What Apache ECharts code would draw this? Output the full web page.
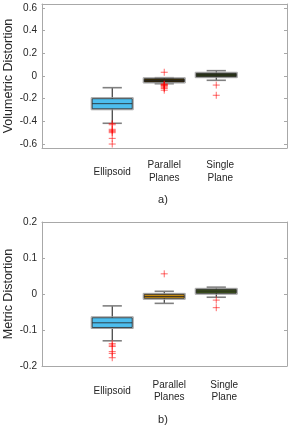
<!DOCTYPE html>
<html><head><meta charset="utf-8">
<script src="https://cdn.jsdelivr.net/npm/echarts@6/dist/echarts.min.js"></script>
<style>html,body{margin:0;padding:0;background:#fff}#c{width:291px;height:431px}</style>
</head><body><div id="c"></div>
<script>
// Categories
var categories = ['Ellipsoid', 'Parallel\nPlanes', 'Single\nPlane'];
// Tick labels
var volTicks = [-0.6, -0.4, -0.2, 0, 0.2, 0.4, 0.6];
var metTicks = [-0.2, -0.1, 0, 0.1, 0.2];
// Box stats: [whiskerLow, Q1, median, Q3, whiskerHigh]
var volEllipsoid = [-0.417, -0.289, -0.244, -0.200, -0.103];
var volParallel  = [-0.068, -0.053, -0.040, -0.024, -0.015];
var volSingle    = [-0.038, -0.006, 0.010, 0.024, 0.047];
var metEllipsoid = [-0.130, -0.093, -0.080, -0.066, -0.033];
var metParallel  = [-0.026, -0.012, -0.007, -0.001, 0.0075];
var metSingle    = [-0.009, 0.002, 0.008, 0.013, 0.019];
// Outliers
var volEllipsoidOut = [-0.42, -0.43, -0.47, -0.48, -0.49, -0.50, -0.55, -0.60];
var volParallelOut  = [0.033, -0.07, -0.075, -0.08, -0.085, -0.09, -0.10, -0.11, -0.125];
var volSingleOut    = [-0.08, -0.17];
var metEllipsoidOut = [-0.138, -0.142, -0.146, -0.160, -0.165, -0.177];
var metParallelOut  = [0.056];
var metSingleOut    = [-0.017, -0.038];

var volFills = ['#4DBEEE', '#3a2c05', '#2c3b12'];
var metFills = ['#4DBEEE', '#c48a12', '#3d5519'];

function boxData(stats) {
  return stats.map(function (s, i) { return [i + 1].concat(s); });
}
function outData(lists) {
  var out = [];
  lists.forEach(function (l, i) { l.forEach(function (v) { out.push([i + 1, v]); }); });
  return out;
}
function boxRender(fills) {
  return function (params, api) {
    var x = api.value(0);
    var wl = api.coord([x, api.value(1)]);
    var q1 = api.coord([x, api.value(2)]);
    var md = api.coord([x, api.value(3)]);
    var q3 = api.coord([x, api.value(4)]);
    var wh = api.coord([x, api.value(5)]);
    var halfBox = (api.coord([x + 0.385, 0])[0] - api.coord([x, 0])[0]);
    var halfCap = (api.coord([x + 0.185, 0])[0] - api.coord([x, 0])[0]);
    var cx = wl[0];
    var fill = fills[params.dataIndex];
    var h = q1[1] - q3[1];
    return {
      type: 'group',
      children: [
        { type: 'line', shape: { x1: cx, y1: wl[1], x2: cx, y2: q1[1] }, style: { stroke: '#111', lineWidth: 1 } },
        { type: 'line', shape: { x1: cx, y1: q3[1], x2: cx, y2: wh[1] }, style: { stroke: '#111', lineWidth: 1 } },
        { type: 'line', shape: { x1: cx - halfCap, y1: wl[1], x2: cx + halfCap, y2: wl[1] }, style: { stroke: '#808080', lineWidth: 1.6 } },
        { type: 'line', shape: { x1: cx - halfCap, y1: wh[1], x2: cx + halfCap, y2: wh[1] }, style: { stroke: '#808080', lineWidth: 1.6 } },
        { type: 'rect', shape: { x: cx - halfBox - 1, y: q3[1] - 1, width: 2 * halfBox + 2, height: h + 2 }, style: { fill: 'none', stroke: '#a0a0a0', lineWidth: 1 } },
        { type: 'rect', shape: { x: cx - halfBox, y: q3[1], width: 2 * halfBox, height: h }, style: { fill: fill, stroke: '#222', lineWidth: 0.8 } },
        { type: 'line', shape: { x1: cx - halfBox, y1: md[1], x2: cx + halfBox, y2: md[1] }, style: { stroke: '#222', lineWidth: 0.8 } }
      ]
    };
  };
}
function plusRender(params, api) {
  var p = api.coord([api.value(0), api.value(1)]);
  var h = 3.5;
  var st = { stroke: 'rgba(255,0,0,0.6)', lineWidth: 1 };
  return {
    type: 'group',
    children: [
      { type: 'line', shape: { x1: p[0] - h, y1: p[1], x2: p[0] + h, y2: p[1] }, style: st },
      { type: 'line', shape: { x1: p[0], y1: p[1] - h, x2: p[0], y2: p[1] + h }, style: st }
    ]
  };
}

var font = 'Liberation Sans, Arial, sans-serif';
var txt = '#262626';
var frame = '#a8a8a8';

function fmtTick(v) { var r = Math.round(v * 10) / 10; return r === 0 ? '0' : String(r); }

function xAxes(gridIndex, margin, lineH, pads) {
  return [
    {
      type: 'value', gridIndex: gridIndex, min: -0.35, max: 4.36, position: 'bottom',
      axisLine: { onZero: false, lineStyle: { color: frame } }, axisTick: { show: false }, splitLine: { show: false },
      axisLabel: {
        customValues: [1, 2, 3], margin: margin, verticalAlign: 'middle', color: txt,
        fontFamily: font, fontSize: 10, lineHeight: lineH,
        formatter: function (v) {
          var i = Math.round(v) - 1;
          var key = 'p' + i;
          return categories[i].split('\n').map(function (s) { return '{' + key + '|' + s + '}'; }).join('\n');
        },
        rich: {
          p0: { padding: [0, 0, 0, pads[0]], fontFamily: font, fontSize: 10, color: txt, lineHeight: lineH },
          p1: { padding: [0, 0, 0, pads[1]], fontFamily: font, fontSize: 10, color: txt, lineHeight: lineH },
          p2: { padding: [0, 0, 0, pads[2]], fontFamily: font, fontSize: 10, color: txt, lineHeight: lineH }
        }
      }
    },
    {
      type: 'value', gridIndex: gridIndex, min: -0.35, max: 4.36, position: 'top',
      axisLine: { show: true, onZero: false, lineStyle: { color: frame } }, axisTick: { show: false },
      axisLabel: { show: false }, splitLine: { show: false }
    }
  ];
}
function yAxes(gridIndex, min, max, ticks, name) {
  return [
    {
      type: 'value', gridIndex: gridIndex, min: min, max: max, position: 'left',
      name: name, nameLocation: 'middle', nameGap: 27, nameMoveOverlap: false,
      nameTextStyle: { fontFamily: font, fontSize: 12.5, color: txt },
      axisLine: { show: true, onZero: false, lineStyle: { color: frame } },
      axisTick: { show: true, inside: true, length: 3, customValues: ticks, lineStyle: { color: frame } },
      axisLabel: { customValues: ticks, formatter: fmtTick, margin: 5, color: txt, fontFamily: font, fontSize: 10 },
      splitLine: { show: false }
    },
    {
      type: 'value', gridIndex: gridIndex, min: min, max: max, position: 'right',
      axisLine: { show: true, onZero: false, lineStyle: { color: frame } },
      axisTick: { show: true, inside: true, length: 3, customValues: ticks, lineStyle: { color: frame } },
      axisLabel: { show: false }, splitLine: { show: false }
    }
  ];
}

var option = {
  animation: false,
  backgroundColor: '#fff',
  grid: [
    { left: 42, top: 4, width: 245, height: 144, containLabel: false, outerBoundsMode: 'none' },
    { left: 42, top: 222, width: 245, height: 144, containLabel: false, outerBoundsMode: 'none' }
  ],
  xAxis: xAxes(0, 24, 12.7, [0, 0, 8]).concat(xAxes(1, 25.5, 12, [0, 10, 16])),
  yAxis: yAxes(0, -0.635, 0.635, volTicks, 'Volumetric Distortion').concat(yAxes(1, -0.2, 0.2, metTicks, 'Metric Distortion')),
  graphic: [
    { type: 'text', x: 163, y: 200, style: { text: 'a)', font: '11px ' + font, fill: txt, textAlign: 'center', textVerticalAlign: 'middle' } },
    { type: 'text', x: 163, y: 420, style: { text: 'b)', font: '11px ' + font, fill: txt, textAlign: 'center', textVerticalAlign: 'middle' } }
  ],
  series: [
    { type: 'custom', xAxisIndex: 0, yAxisIndex: 0, renderItem: boxRender(volFills), data: boxData([volEllipsoid, volParallel, volSingle]), encode: { x: 0, y: [1, 2, 3, 4, 5] }, clip: false },
    { type: 'custom', xAxisIndex: 0, yAxisIndex: 0, renderItem: plusRender, data: outData([volEllipsoidOut, volParallelOut, volSingleOut]), encode: { x: 0, y: 1 }, z: 3 },
    { type: 'custom', xAxisIndex: 2, yAxisIndex: 2, renderItem: boxRender(metFills), data: boxData([metEllipsoid, metParallel, metSingle]), encode: { x: 0, y: [1, 2, 3, 4, 5] }, clip: false },
    { type: 'custom', xAxisIndex: 2, yAxisIndex: 2, renderItem: plusRender, data: outData([metEllipsoidOut, metParallelOut, metSingleOut]), encode: { x: 0, y: 1 }, z: 3 }
  ]
};
var chart = echarts.init(document.getElementById('c'), null, { renderer: 'canvas' });
chart.setOption(option);
</script>
</body></html>
